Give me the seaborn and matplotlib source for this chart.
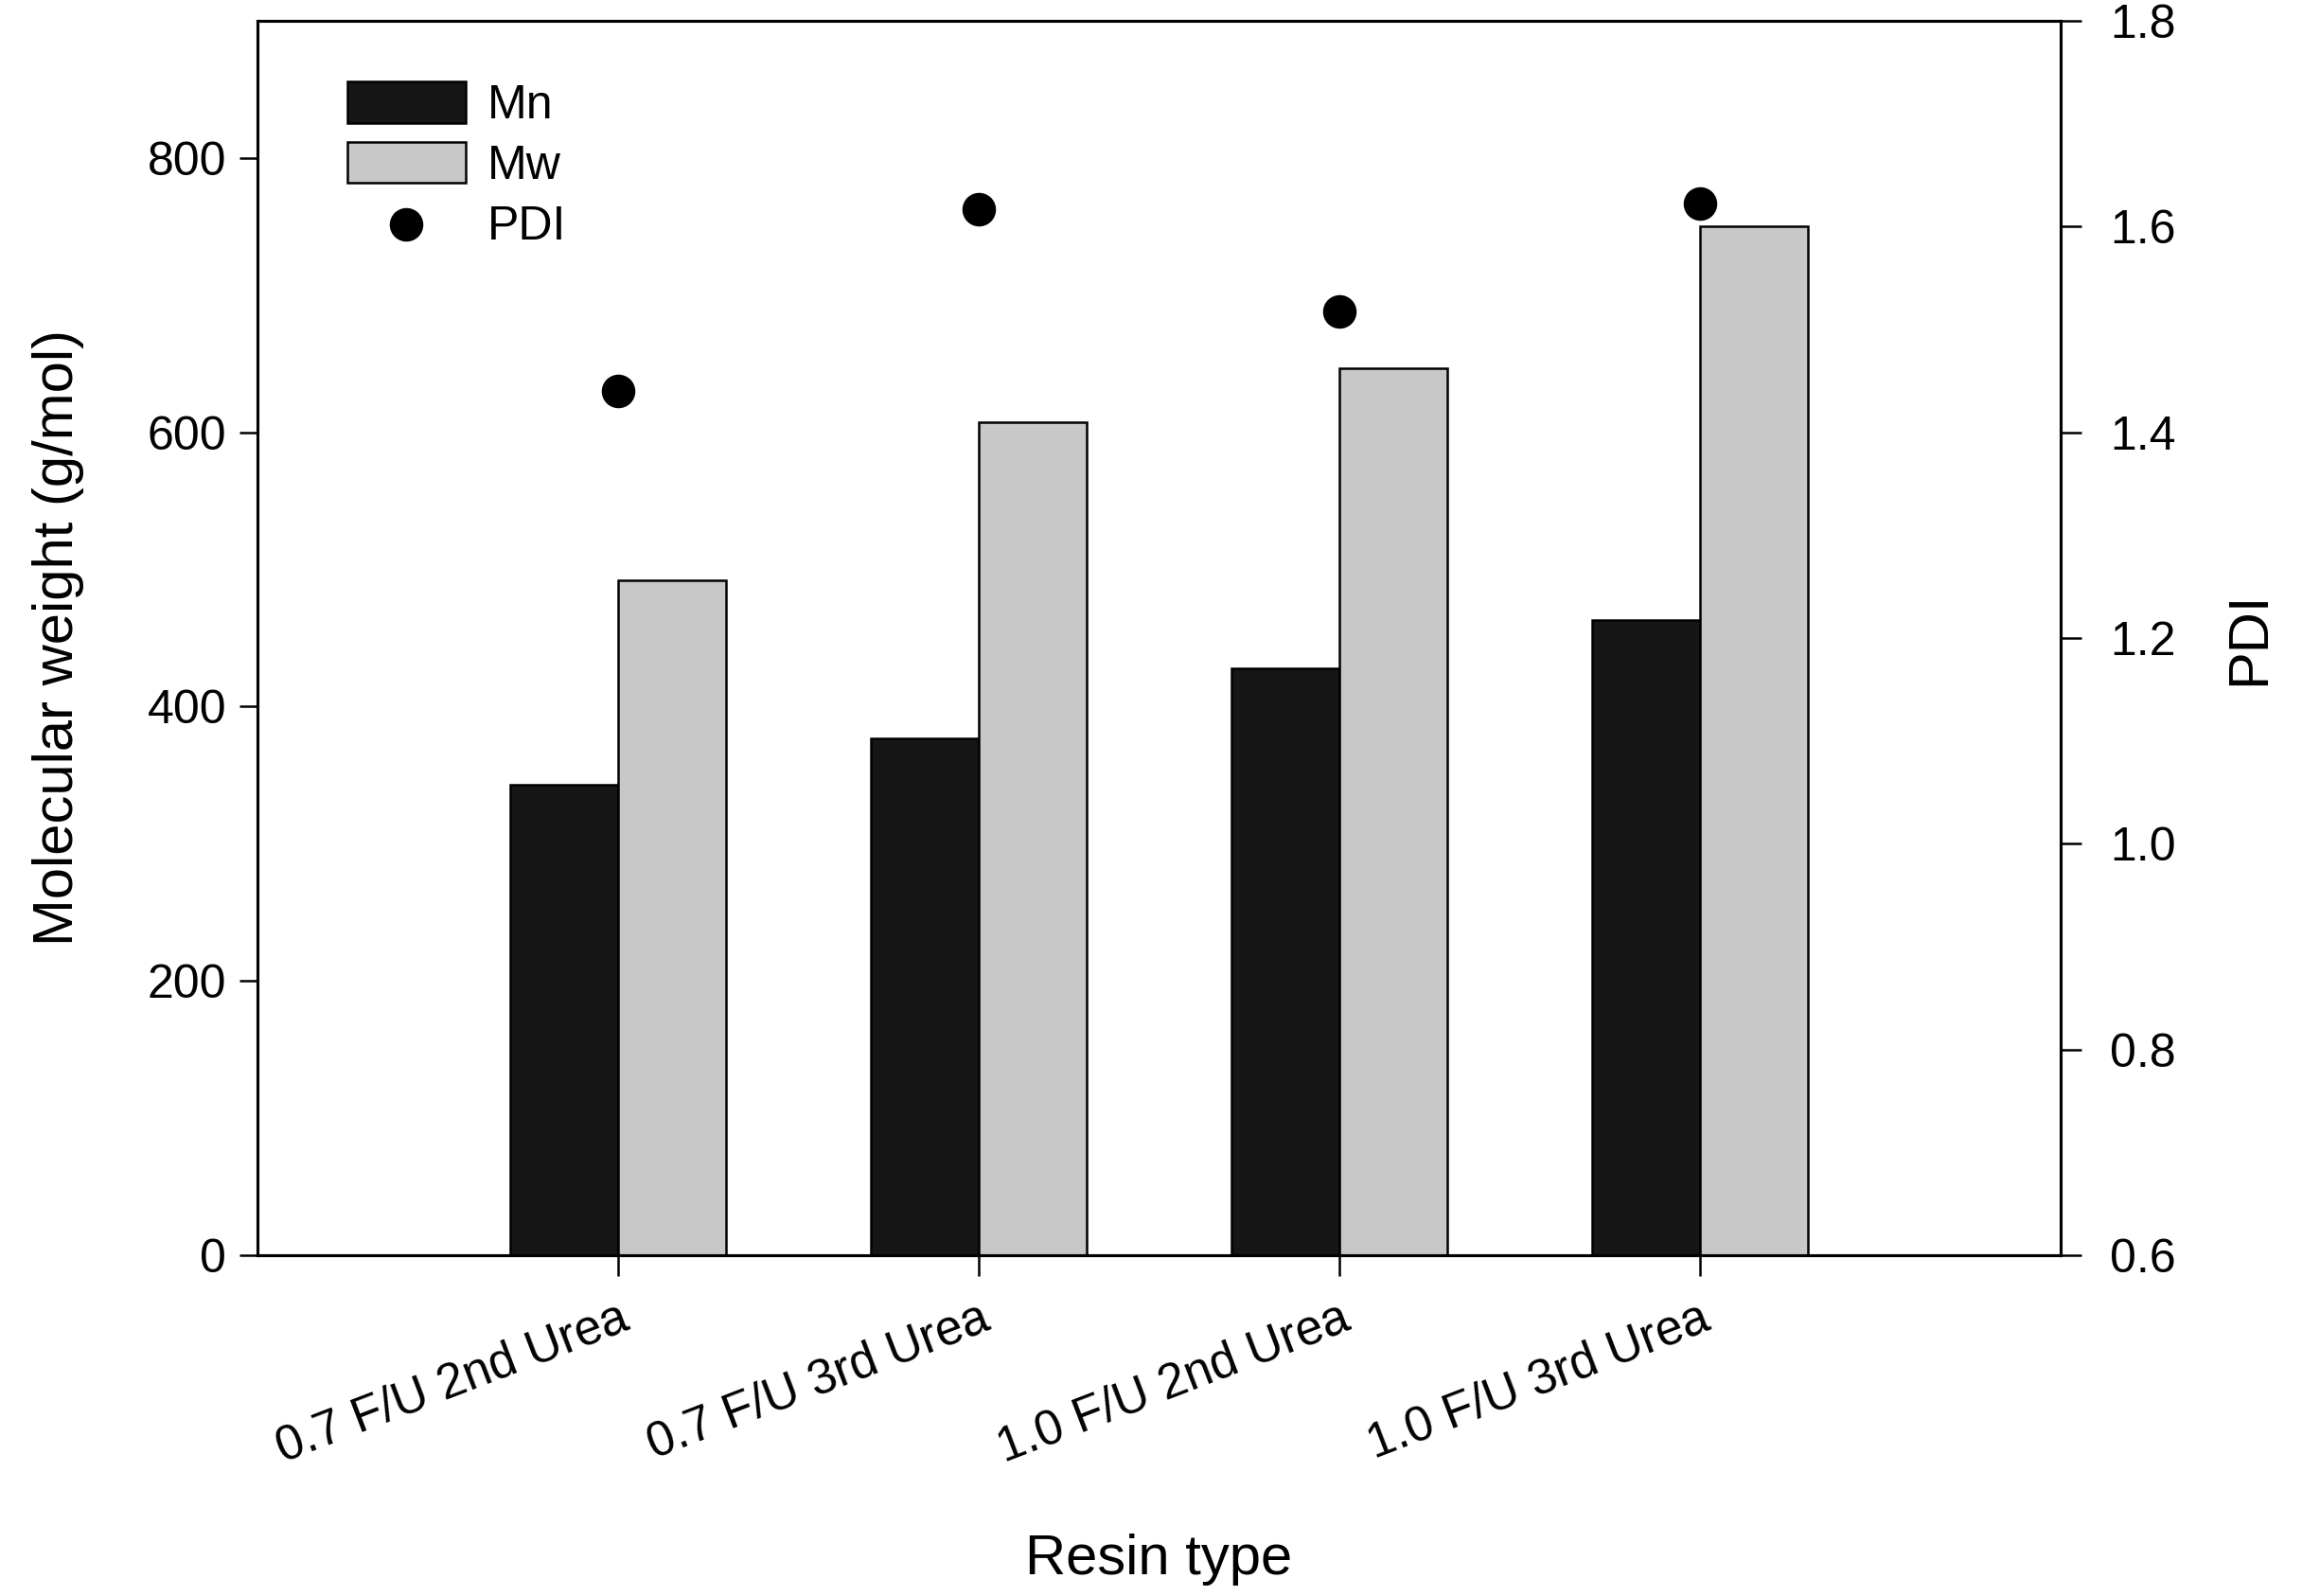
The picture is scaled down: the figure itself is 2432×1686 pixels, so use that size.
import numpy as np
import pandas as pd
import matplotlib
matplotlib.use('Agg')
import matplotlib.pyplot as plt
import seaborn as sns

RESINS = ['0.7 F/U 2nd Urea', '0.7 F/U 3rd Urea', '1.0 F/U 2nd Urea', '1.0 F/U 3rd Urea']
MN = [343, 377, 428, 463]
MW = [492, 607, 647, 750]
PDI = [1.44, 1.617, 1.517, 1.622]

LEFT_TICKS = [0, 200, 400, 600, 800]
RIGHT_TICKS = [0.6, 0.8, 1.0, 1.2, 1.4, 1.6, 1.8]

sns.set_style('ticks')
plt.rcParams['font.family'] = ['Liberation Sans', 'DejaVu Sans']
plt.rcParams['text.color'] = 'black'
plt.rcParams['axes.labelcolor'] = 'black'
plt.rcParams['xtick.color'] = 'black'
plt.rcParams['ytick.color'] = 'black'
plt.rcParams['axes.edgecolor'] = 'black'

df = pd.DataFrame({
    'resin': RESINS * 2,
    'series': ['Mn'] * len(RESINS) + ['Mw'] * len(RESINS),
    'value': MN + MW,
})

fig, ax = plt.subplots(figsize=(24.32, 16.86), dpi=100)
fig.subplots_adjust(left=0.112, right=0.895, top=0.987, bottom=0.2135)

sns.barplot(data=df, x='resin', y='value', hue='series', order=RESINS,
            palette={'Mn': '#161616', 'Mw': '#c8c8c8'}, width=0.6,
            edgecolor='black', linewidth=1.8, saturation=1, ax=ax)
ax.set_xlim(-1, 4)
ax.set_ylim(0, 900)
ax.set_yticks(LEFT_TICKS)
ax.set_ylabel('Molecular weight (g/mol)', fontsize=43, labelpad=48)
ax.set_xlabel('Resin type', fontsize=43, labelpad=47)
ax.set_xticks(range(len(RESINS)))
ax.set_xticklabels(RESINS, rotation=21, ha='right', rotation_mode='anchor', fontsize=37)
ax.tick_params(axis='y', labelsize=36, length=14, width=1.8, pad=10)
ax.tick_params(axis='x', length=16, width=1.8, pad=14)
for s in ax.spines.values():
    s.set_linewidth(2.2)
ax.legend_.remove()

ax2 = ax.twinx()
sns.scatterplot(x=np.arange(len(RESINS)), y=PDI, color='black', s=560,
                edgecolor='black', ax=ax2, label='PDI', zorder=5)
ax2.set_ylim(0.6, 1.8)
ax2.set_yticks(RIGHT_TICKS)
ax2.set_yticklabels([f'{t:.1f}' for t in RIGHT_TICKS])
ax2.tick_params(axis='y', labelsize=36, length=16, width=1.8, pad=22)
ax2.set_ylabel('PDI', fontsize=43, labelpad=36)
for s in ax2.spines.values():
    s.set_linewidth(2.2)

h1, l1 = ax.get_legend_handles_labels()
h2, l2 = ax2.get_legend_handles_labels()
ax2.legend(h1 + h2, l1 + l2, loc='upper left', bbox_to_anchor=(0.026, 0.985),
           frameon=False, fontsize=36, handlelength=2.5, handleheight=0.95,
           labelspacing=0.3, handletextpad=0.45, markerscale=1.0)

fig.savefig('out.png', dpi=100)
